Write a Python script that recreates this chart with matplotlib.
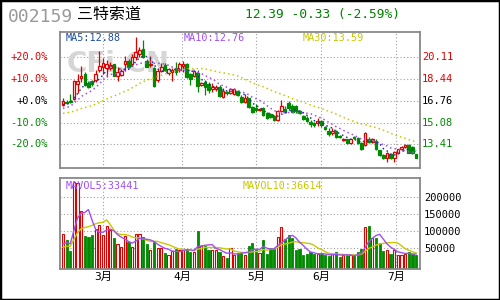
import matplotlib
matplotlib.use('Agg')
import matplotlib.pyplot as plt
import matplotlib.transforms as mtransforms
from matplotlib.patches import Rectangle
import numpy as np
import pandas as pd

plt.rcParams['font.family'] = ['DejaVu Sans Mono', 'Noto Sans CJK SC']

# ==================== DATA ====================
# closes before the visible window (only used to seed the moving averages)
pre_close = [15.45, 15.52, 15.60, 15.48, 15.55, 15.70, 15.62, 15.58, 15.66, 15.74,
             15.52, 15.60, 15.68, 15.63, 15.59, 15.66, 15.71, 15.64, 15.58, 15.69,
             15.82, 15.95, 15.88, 15.86, 15.99, 16.28, 16.45, 16.36, 16.51]
pre_volume = [41000, 47000, 43000, 45000, 44000, 52000, 58000, 51000, 57000]

opens = [16.46, 16.67, 16.75, 16.90, 18.09, 18.52, 18.86, 18.13, 18.25, 18.36,
         19.13, 19.36, 19.32, 19.29, 19.56, 18.67, 18.75, 19.63, 19.86, 19.59,
         20.13, 20.36, 20.75, 19.79, 19.53, 19.26, 18.36, 19.08, 19.52, 18.92,
         19.00, 19.26, 19.13, 19.44, 19.59, 18.82, 18.69, 18.92, 17.98, 18.23,
         18.05, 17.67, 17.65, 17.85, 17.08, 17.46, 17.34, 17.28, 17.54, 17.08,
         16.69, 16.95, 16.31, 16.23, 16.05, 16.18, 15.80, 15.72, 15.61, 15.28,
         16.00, 16.13, 16.57, 16.38, 16.36, 15.98, 15.59, 15.41, 15.15, 15.05,
         15.03, 15.21, 14.77, 14.46, 14.26, 14.46, 14.05, 13.74, 13.80, 13.53,
         14.00, 13.92, 13.53, 13.36, 13.80, 13.61, 13.69, 12.97, 12.56, 12.33,
         12.64, 12.38, 12.76, 13.09, 13.18, 13.36, 13.18, 12.64]
closes = [16.72, 16.61, 16.67, 18.29, 18.29, 18.71, 17.98, 17.86, 18.02, 18.82,
          19.44, 19.67, 19.56, 19.52, 18.71, 18.98, 19.02, 19.79, 19.40, 20.13,
          20.52, 20.67, 20.13, 19.40, 19.59, 17.90, 19.08, 19.39, 19.13, 19.19,
          19.13, 19.00, 19.59, 19.59, 18.57, 18.44, 19.06, 17.90, 18.11, 17.80,
          17.59, 17.85, 17.80, 17.13, 17.54, 17.34, 17.65, 17.65, 17.21, 16.69,
          16.95, 16.31, 15.92, 16.05, 16.17, 15.67, 15.41, 15.54, 15.28, 16.00,
          16.38, 15.87, 16.23, 15.92, 15.98, 15.80, 15.34, 15.21, 14.95, 14.90,
          15.21, 14.90, 14.57, 14.20, 14.46, 14.00, 13.95, 13.82, 13.49, 13.80,
          13.87, 13.49, 13.03, 14.30, 13.61, 13.80, 13.03, 12.59, 12.38, 12.76,
          12.38, 12.84, 13.03, 13.20, 13.36, 12.76, 12.72, 12.39]
highs = [16.98, 16.82, 17.28, 18.36, 18.86, 19.44, 18.98, 18.29, 18.36, 19.13,
         20.56, 20.02, 19.90, 19.75, 19.63, 19.36, 19.21, 20.21, 19.98, 20.36,
         21.70, 20.90, 21.44, 19.98, 20.21, 19.36, 19.19, 19.69, 19.67, 19.26,
         19.26, 19.77, 19.77, 19.85, 19.67, 18.88, 19.13, 19.13, 18.21, 18.36,
         18.21, 18.11, 17.98, 17.98, 17.72, 17.52, 17.75, 17.75, 17.59, 17.21,
         17.26, 17.01, 16.36, 16.49, 16.24, 16.28, 15.90, 15.82, 15.67, 16.05,
         16.82, 16.38, 16.75, 16.51, 16.44, 16.05, 15.67, 15.61, 15.28, 15.13,
         15.41, 15.26, 14.82, 14.64, 14.64, 14.51, 14.13, 13.87, 13.86, 13.86,
         14.09, 13.97, 13.59, 14.36, 13.97, 13.93, 13.82, 13.01, 12.63, 12.84,
         12.74, 12.88, 13.09, 13.28, 13.43, 13.40, 13.28, 12.70]
lows = [16.36, 16.51, 16.59, 16.82, 17.36, 18.21, 17.90, 17.75, 17.90, 18.21,
        18.98, 18.82, 18.63, 19.13, 18.67, 18.29, 18.67, 19.06, 19.29, 19.44,
        19.90, 20.13, 20.06, 19.36, 19.39, 17.82, 18.23, 19.00, 19.06, 18.75,
        18.31, 18.75, 19.00, 19.00, 18.52, 17.98, 18.59, 17.46, 17.90, 17.21,
        17.36, 17.46, 17.52, 17.09, 16.95, 17.21, 17.28, 17.21, 17.13, 16.63,
        16.57, 16.24, 15.86, 15.92, 16.01, 15.59, 15.36, 15.47, 15.21, 15.24,
        15.92, 15.80, 16.05, 15.90, 15.82, 15.74, 15.28, 15.10, 14.77, 14.74,
        14.84, 14.77, 14.51, 14.05, 14.13, 13.93, 13.90, 13.69, 13.43, 13.47,
        13.82, 13.43, 12.97, 13.32, 13.51, 13.55, 12.97, 12.55, 12.32, 12.03,
        12.32, 12.07, 12.70, 13.01, 13.13, 12.74, 12.66, 12.36]
volume = [91600, 74100, 43000, 243600, 241000, 158400, 85800, 83700, 88700, 105200,
          117700, 88700, 114800, 103200, 79100, 62500, 52900, 85800, 69200, 54700,
          91600, 90500, 82000, 62500, 45100, 69200, 50000, 50000, 35500, 30500,
          43000, 47100, 45100, 47100, 47100, 40100, 40100, 100300, 56700, 56700,
          45100, 45100, 45100, 40100, 27600, 20900, 50000, 30500, 37200, 40100,
          30500, 56700, 64500, 45100, 35500, 74100, 32600, 50000, 51700, 83700,
          111000, 76200, 88700, 79100, 45900, 48800, 29700, 33400, 39200, 33400,
          33400, 33400, 29700, 26700, 33400, 39200, 23800, 29700, 29700, 29700,
          29700, 39200, 48800, 111900, 115700, 79900, 79900, 65400, 43000, 45900,
          33400, 45900, 29700, 31400, 33400, 38500, 34000, 29700]

month_pos = [11, 32.7, 53, 70.9, 91.5]
month_labels = ['3月', '4月', '5月', '6月', '7月']
price_ticks = [20.11, 18.44, 16.76, 15.08, 13.41]
price_labels = ['20.11', '18.44', '16.76', '15.08', '13.41']
pct_labels = ['+20.0%', '+10.0%', '+0.0%', '-10.0%', '-20.0%']
vol_ticks = [200000, 150000, 100000, 50000]

RED = '#e00000'
GREEN = '#008a00'
GRID = '#a0a0a0'
FRAME = '#888888'
tick_colors = [RED, RED, 'black', GREEN, GREEN]

# ==================== MOVING AVERAGES ====================
n = len(closes)
x = np.arange(n)
close_all = pd.Series(pre_close + closes)
ma5 = close_all.rolling(5).mean().iloc[-n:].values
ma10 = close_all.rolling(10).mean().iloc[-n:].values
ma30 = close_all.rolling(30).mean().iloc[-n:].values
vol_all = pd.Series(pre_volume + volume)
mavol5 = vol_all.rolling(5).mean().iloc[-n:].values
mavol10 = vol_all.rolling(10).mean().iloc[-n:].values

o = np.array(opens)
c = np.array(closes)
h = np.array(highs)
l = np.array(lows)
v = np.array(volume)
up = c >= o

# ==================== FIGURE ====================
fig = plt.figure(figsize=(5, 3), dpi=100)
fig.patch.set_facecolor('white')
ax = fig.add_axes([60 / 500, 132 / 300, 360 / 500, 136 / 300])
axv = fig.add_axes([60 / 500, 31 / 300, 360 / 500, 91 / 300])

dotted = (0, (1, 2))
for a in (ax, axv):
    a.set_xlim(-0.82, 98.08)
    for s in a.spines.values():
        s.set_color(FRAME)
        s.set_linewidth(1.3)
    a.set_xticks(month_pos)
    a.grid(True, color=GRID, linestyle=dotted, linewidth=0.8)
    a.set_axisbelow(True)

# ---- price panel ----
ax.set_ylim(11.59, 22.06)
ax.set_yticks(price_ticks)
ax.tick_params(length=0, labelleft=False, labelbottom=False)

ax.text(0.161, 0.765, 'CFi.CN', transform=ax.transAxes, ha='center', va='center',
        fontsize=20, fontweight='bold', color='#d6d6d6', family='DejaVu Sans', zorder=1)

ax.vlines(x, l, h, colors=np.where(up, RED, GREEN), linewidth=0.9, zorder=2)
body_bottom = np.minimum(o, c)
body_h = np.maximum(np.abs(c - o), 0.015)
ax.bar(x[up], body_h[up], bottom=body_bottom[up], width=0.72,
       facecolor='white', edgecolor=RED, linewidth=0.9, zorder=3)
ax.bar(x[~up], body_h[~up], bottom=body_bottom[~up], width=0.72,
       facecolor=GREEN, edgecolor=GREEN, linewidth=0.9, zorder=3)

ax.plot(x, ma30, color='#c8c800', linestyle=dotted, linewidth=1.1, zorder=4)
ax.plot(x, ma10, color='#a050f0', linestyle=dotted, linewidth=1.1, zorder=4)
ax.plot(x, ma5, color='#1a3c8c', linestyle=dotted, linewidth=1.1, zorder=4)

trans = mtransforms.blended_transform_factory(ax.transAxes, ax.transData)
for p, pl, rl, col in zip(price_ticks, pct_labels, price_labels, tick_colors):
    ax.text(-0.034, p, pl, transform=trans, ha='right', va='center', fontsize=7.5, color=col)
    ax.text(1.006, p, rl, transform=trans, ha='left', va='center', fontsize=7.5, color=col)

# ---- volume panel ----
vol_floor = -10200
axv.set_ylim(vol_floor, 254400)
axv.set_yticks(vol_ticks)
axv.yaxis.tick_right()
axv.tick_params(axis='y', length=0, pad=3, labelsize=7.5, labelcolor='black')
axv.tick_params(axis='x', length=0, pad=2, labelsize=8)
axv.set_xticklabels(month_labels)

axv.bar(x[up], v[up] - vol_floor, bottom=vol_floor, width=0.6,
        facecolor='white', edgecolor=RED, linewidth=0.8, zorder=2)
axv.bar(x[~up], v[~up] - vol_floor, bottom=vol_floor, width=0.6,
        facecolor=GREEN, edgecolor=GREEN, linewidth=0.6, zorder=2)
axv.plot(x, mavol10, color='#c8c800', linewidth=1.0, zorder=3)
axv.plot(x, mavol5, color='#a050f0', linewidth=1.0, zorder=3)

# ---- texts ----
def ftext(px, py, s, **kw):
    fig.text(px / 500, 1 - py / 300, s, va='center', **kw)

ftext(8, 16.5, '002159', fontsize=13, color='#999999')
ftext(77, 14.5, '三特索道', fontsize=11.5, color='black', family='Noto Sans CJK SC')
ftext(245, 14.5, '12.39 -0.33 (-2.59%)', fontsize=9.3, color='#008000')

ftext(66, 38, 'MA5:12.88', fontsize=7.3, color='#1a4c9c')
ftext(184, 38, 'MA10:12.76', fontsize=7.3, color='#a050f0')
ftext(303, 38, 'MA30:13.59', fontsize=7.3, color='#c8c800')
ftext(66, 186, 'MAVOL5:33441', fontsize=7.3, color='#a050f0')
ftext(243, 186, 'MAVOL10:36614', fontsize=7.3, color='#c8c800')

fig.add_artist(Rectangle((0, 0), 1, 1, transform=fig.transFigure, fill=False,
                         edgecolor='black', linewidth=2.5))

fig.savefig('out.png', dpi=100)
